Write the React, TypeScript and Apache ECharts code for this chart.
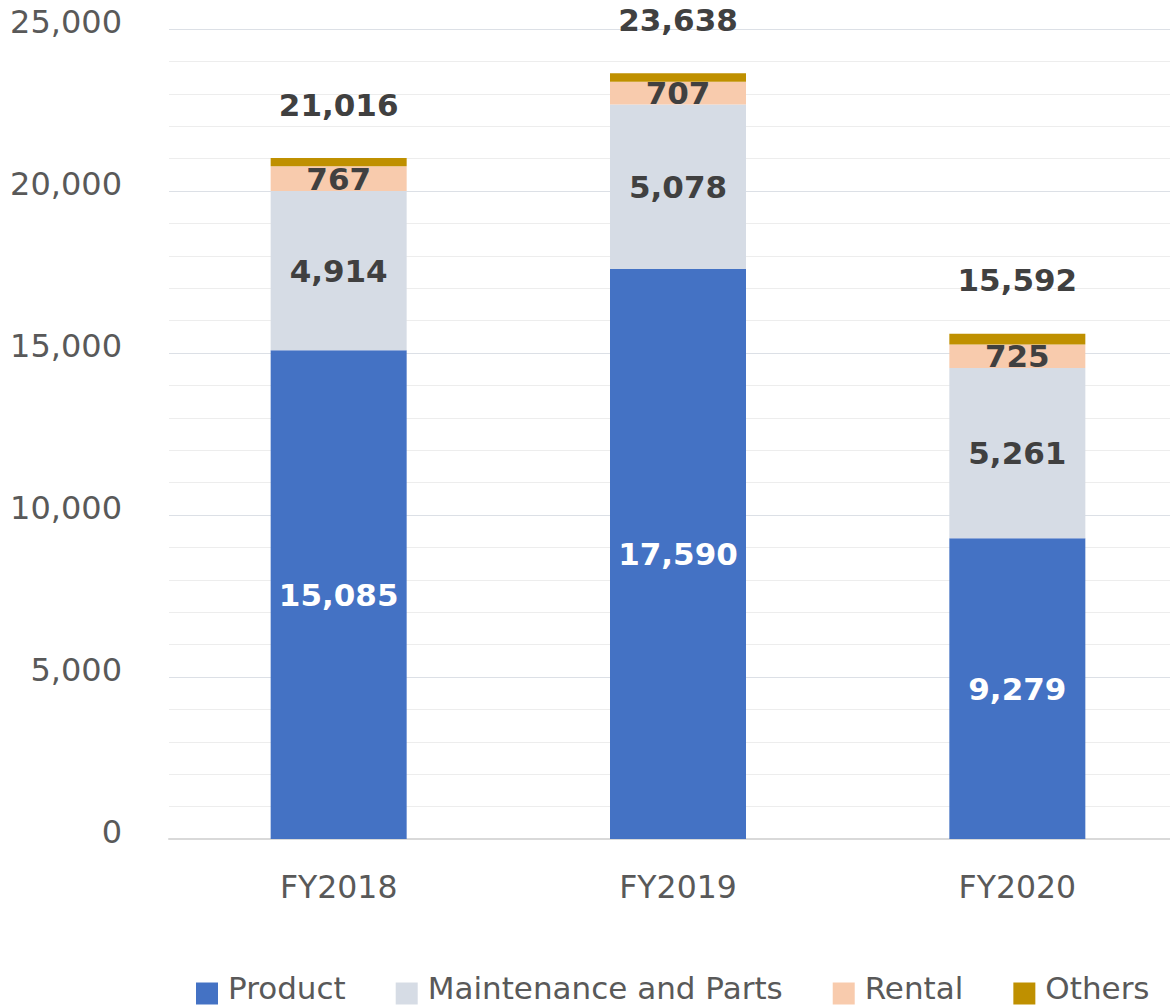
import React, { useEffect, useRef } from "react";
import * as echarts from "echarts";

const categories = ["FY2018", "FY2019", "FY2020"];
const product = [15085, 17590, 9279];
const maintenance = [4914, 5078, 5261];
const rental = [767, 707, 725];
const others = [250, 263, 327];
const totals = [21016, 23638, 15592];
const yTicks = [0, 5000, 10000, 15000, 20000, 25000];

const FONT = "'DejaVu Sans', Verdana, sans-serif";
const fmt = (v: number) => v.toLocaleString("en-US");

export default function App() {
  const ref = useRef<HTMLDivElement>(null);
  useEffect(() => {
    if (!ref.current) return;
    const chart = echarts.init(ref.current, undefined, { renderer: "svg" });
    const segLabel = (color: string) => ({
      show: true,
      position: "inside" as const,
      formatter: (p: any) => fmt(p.value),
      fontFamily: FONT,
      fontSize: 31,
      fontWeight: "bold" as const,
      color,
    });
    chart.setOption({
      animation: false,
      textStyle: { fontFamily: FONT },
      grid: { left: 169, top: 29, width: 1018, height: 810, containLabel: false },
      legend: {
        left: 196,
        top: 972,
        padding: 0,
        icon: "rect",
        itemWidth: 22,
        itemHeight: 22,
        itemGap: 50,
        formatter: "{a|{name}}",
        textStyle: {
          fontFamily: FONT,
          fontSize: 31,
          color: "#595959",
          rich: {
            a: { fontFamily: FONT, fontSize: 31, color: "#595959", padding: [0, 0, 12, 5] },
          },
        },
        data: ["Product", "Maintenance and Parts", "Rental", "Others"],
      },
      xAxis: {
        type: "category",
        data: categories,
        axisLine: { show: true, lineStyle: { color: "#D9D9D9", width: 2 } },
        axisTick: { show: false },
        axisLabel: { fontFamily: FONT, fontSize: 31.5, color: "#595959", margin: 32 },
      },
      yAxis: {
        type: "value",
        min: yTicks[0],
        max: yTicks[yTicks.length - 1],
        interval: 5000,
        axisLine: { show: false },
        axisTick: { show: false },
        axisLabel: {
          fontFamily: FONT,
          fontSize: 32,
          color: "#595959",
          margin: 47,
          verticalAlign: "bottom",
          lineHeight: 14,
          formatter: (v: number) => fmt(v),
        },
        splitLine: { show: true, lineStyle: { color: "#DCE0E6", width: 1 } },
        minorTick: { show: false, splitNumber: 5 },
        minorSplitLine: { show: true, lineStyle: { color: "#EDEDED", width: 1 } },
      },
      series: [
        {
          name: "Product",
          type: "bar",
          stack: "total",
          barWidth: 136,
          data: product,
          itemStyle: { color: "#4472C4" },
          label: segLabel("#FFFFFF"),
        },
        {
          name: "Maintenance and Parts",
          type: "bar",
          stack: "total",
          barWidth: 136,
          data: maintenance,
          itemStyle: { color: "#D6DCE5" },
          label: segLabel("#404040"),
        },
        {
          name: "Rental",
          type: "bar",
          stack: "total",
          barWidth: 136,
          data: rental,
          itemStyle: { color: "#F8CBAD" },
          label: segLabel("#404040"),
        },
        {
          name: "Others",
          type: "bar",
          stack: "total",
          barWidth: 136,
          data: others,
          itemStyle: { color: "#BF9000" },
          label: {
            show: true,
            position: "top",
            distance: 38,
            formatter: (p: any) => fmt(totals[p.dataIndex]),
            fontFamily: FONT,
            fontSize: 31,
            fontWeight: "bold",
            color: "#404040",
          },
        },
      ],
    });
    return () => chart.dispose();
  }, []);
  return (
    <div
      style={{
        position: "absolute",
        left: 0,
        top: 0,
        width: 1170,
        height: 1005,
        overflow: "hidden",
        background: "#fff",
      }}
    >
      <div ref={ref} style={{ width: 1200, height: 1005 }} />
    </div>
  );
}
